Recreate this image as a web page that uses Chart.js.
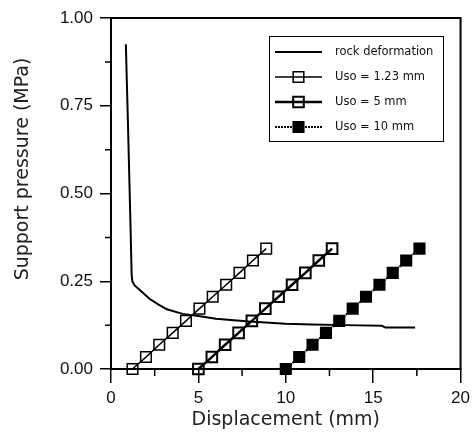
<!DOCTYPE html>
<html>
<head>
<meta charset="utf-8">
<script src="https://cdn.jsdelivr.net/npm/chart.js@4/dist/chart.umd.min.js"></script>
<style>
  html, body { margin: 0; padding: 0; background: #fff; }
</style>
</head>
<body>
<canvas id="pressureChart" width="475" height="436"></canvas>
<script>
// rock deformation curve
const rockDisp = [0.85, 0.9, 0.97, 1.05, 1.12, 1.18, 1.22, 1.35, 1.65, 2.2, 2.7, 3.2, 4.1, 5.1, 6.0, 7.9, 10.0, 11.5, 13.4, 15.5, 15.7, 17.4]
const rockPress = [0.925, 0.83, 0.70, 0.54, 0.40, 0.27, 0.25, 0.238, 0.225, 0.2, 0.184, 0.17, 0.157, 0.15, 0.143, 0.135, 0.129, 0.127, 0.125, 0.123, 0.118, 0.118]

// support lines, installed at Uso
const supportPress = [0, 0.034, 0.069, 0.103, 0.137, 0.172, 0.206, 0.240, 0.274, 0.309, 0.343]
const uso123Disp = [1.23, 2.0, 2.76, 3.53, 4.29, 5.06, 5.82, 6.59, 7.35, 8.12, 8.88]
const uso5Disp = [5.0, 5.77, 6.53, 7.3, 8.06, 8.83, 9.59, 10.36, 11.12, 11.89, 12.65]
const uso10Disp = [10.0, 10.77, 11.53, 12.3, 13.06, 13.83, 14.59, 15.36, 16.12, 16.89, 17.65]

const seriesLabels = ['rock deformation', 'Uso = 1.23 mm', 'Uso = 5 mm', 'Uso = 10 mm']

function toPoints(xs, ys) {
  return xs.map((x, i) => ({ x, y: ys[i] }))
}

function isMajor(v, step) {
  return Math.abs(v / step - Math.round(v / step)) < 1e-6
}

const tickFont = { family: 'Liberation Sans, Arial, sans-serif', size: 17 }
const titleFont = { family: 'DejaVu Sans, sans-serif', size: 19 }

// frame, minor ticks and y title
const framePlugin = {
  id: 'frame',
  afterDraw(chart) {
    const { ctx, chartArea: a, scales } = chart
    ctx.save()
    ctx.strokeStyle = '#000'
    ctx.lineWidth = 2
    ctx.strokeRect(a.left, a.top, a.right - a.left, a.bottom - a.top)

    ctx.lineWidth = 1.5
    ctx.beginPath()
    scales.x.ticks.forEach(t => {
      if (isMajor(t.value, 5)) return
      const px = scales.x.getPixelForValue(t.value)
      ctx.moveTo(px, a.bottom)
      ctx.lineTo(px, a.bottom + 7)
    })
    scales.y.ticks.forEach(t => {
      if (isMajor(t.value, 0.25)) return
      const py = scales.y.getPixelForValue(t.value)
      ctx.moveTo(a.left - 6, py)
      ctx.lineTo(a.left, py)
    })
    ctx.stroke()

    ctx.fillStyle = '#222'
    ctx.font = titleFont.size + 'px ' + titleFont.family
    ctx.textAlign = 'center'
    ctx.textBaseline = 'middle'
    ctx.translate(23, 169)
    ctx.rotate(-Math.PI / 2)
    ctx.fillText('Support pressure (MPa)', 0, 0)
    ctx.restore()
  }
}

const legendPlugin = {
  id: 'boxLegend',
  afterDraw(chart) {
    const { ctx } = chart
    ctx.save()
    ctx.strokeStyle = '#000'
    ctx.lineWidth = 1
    ctx.strokeRect(269.5, 36.5, 174, 105)
    ctx.font = '11.5px DejaVu Sans, sans-serif'
    ctx.textBaseline = 'middle'
    chart.data.datasets.forEach((ds, i) => {
      const y = 52 + i * 25
      ctx.strokeStyle = ds.borderColor
      ctx.lineWidth = ds.borderWidth
      ctx.setLineDash(ds.borderDash || [])
      ctx.beginPath()
      ctx.moveTo(275, y)
      ctx.lineTo(322, y)
      ctx.stroke()
      ctx.setLineDash([])
      if (ds.pointRadius > 0) {
        ctx.fillStyle = ds.pointBackgroundColor
        ctx.strokeStyle = ds.pointBorderColor
        ctx.lineWidth = ds.pointBorderWidth
        Chart.helpers.drawPoint(ctx, {
          pointStyle: 'rect', radius: ds.pointRadius, rotation: 0, borderWidth: ds.pointBorderWidth
        }, 298.5, y)
      }
      ctx.fillStyle = '#111'
      ctx.fillText(ds.label, 335, y)
    })
    ctx.restore()
  }
}

const ctx = document.getElementById('pressureChart').getContext('2d')
new Chart(ctx, {
  type: 'scatter',
  data: {
    datasets: [{
      label: seriesLabels[0],
      data: toPoints(rockDisp, rockPress),
      showLine: true,
      borderColor: '#000',
      borderWidth: 2,
      pointRadius: 0,
      clip: false
    }, {
      label: seriesLabels[1],
      data: toPoints(uso123Disp, supportPress),
      showLine: true,
      borderColor: '#000',
      borderWidth: 1.5,
      pointStyle: 'rect',
      pointRadius: 7.5,
      pointBorderWidth: 1.5,
      pointBorderColor: '#000',
      pointBackgroundColor: 'rgba(0,0,0,0)',
      clip: false
    }, {
      label: seriesLabels[2],
      data: toPoints(uso5Disp, supportPress),
      showLine: true,
      borderColor: '#000',
      borderWidth: 2.5,
      pointStyle: 'rect',
      pointRadius: 7.5,
      pointBorderWidth: 2,
      pointBorderColor: '#000',
      pointBackgroundColor: 'rgba(0,0,0,0)',
      clip: false
    }, {
      label: seriesLabels[3],
      data: toPoints(uso10Disp, supportPress),
      showLine: true,
      borderColor: '#000',
      borderWidth: 2,
      borderDash: [2, 1],
      pointStyle: 'rect',
      pointRadius: 7.5,
      pointBorderWidth: 1.5,
      pointBorderColor: '#000',
      pointBackgroundColor: '#000',
      clip: false
    }]
  },
  options: {
    responsive: false,
    animation: false,
    devicePixelRatio: 1,
    layout: { padding: { top: 18, right: 13, left: 0, bottom: 0 } },
    plugins: {
      legend: { display: false },
      tooltip: { enabled: false }
    },
    scales: {
      x: {
        min: 0,
        max: 20,
        afterFit(scale) { scale.height = 67 },
        ticks: {
          stepSize: 2.5,
          autoSkip: false,
          maxRotation: 0,
          color: '#111',
          font: tickFont,
          padding: 5,
          callback: v => isMajor(v, 5) ? String(v) : ''
        },
        grid: {
          drawOnChartArea: false,
          tickLength: 14,
          lineWidth: 1.5,
          tickColor: c => isMajor(c.tick.value, 5) ? '#000' : 'rgba(0,0,0,0)'
        },
        border: { color: '#000', width: 2 },
        title: {
          display: true,
          text: 'Displacement (mm)',
          color: '#222',
          font: titleFont,
          padding: { top: 0, bottom: 5 }
        }
      },
      y: {
        min: 0,
        max: 1,
        afterFit(scale) { scale.width = 111 },
        ticks: {
          stepSize: 0.125,
          autoSkip: false,
          color: '#111',
          font: tickFont,
          padding: 7,
          callback: v => isMajor(v, 0.25) ? v.toFixed(2) : ''
        },
        grid: {
          drawOnChartArea: false,
          tickLength: 11,
          lineWidth: 1.5,
          tickColor: c => isMajor(c.tick.value, 0.25) ? '#000' : 'rgba(0,0,0,0)'
        },
        border: { color: '#000', width: 2 }
      }
    }
  },
  plugins: [framePlugin, legendPlugin]
})
</script>
</body>
</html>
